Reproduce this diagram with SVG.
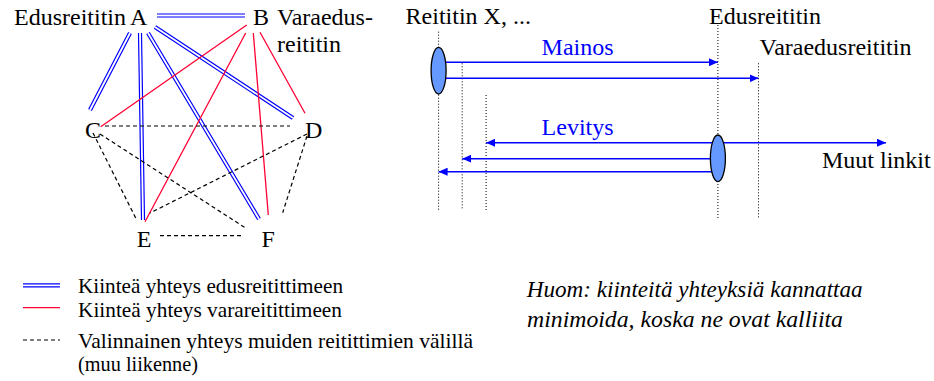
<svg xmlns="http://www.w3.org/2000/svg" width="934" height="381" viewBox="0 0 934 381">
<style>
text{font-family:"Liberation Serif","Times New Roman",serif;fill:#000}
.lbl{font-size:24px}
.leg{font-size:21px}
.note{font-size:23px;font-style:italic}
.blt{fill:#0000FF}
.dbl{stroke:#0000FF;stroke-width:4.2;fill:none}
.dblw{stroke:#FFFFFF;stroke-width:1.8;fill:none}
.red{stroke:#FF0033;stroke-width:1.3;fill:none}
.dash{stroke:#000;stroke-width:1.2;stroke-dasharray:4,3;fill:none}
.dot{stroke:#000;stroke-width:1;stroke-dasharray:1,2;fill:none}
.arr{stroke:#0000FF;stroke-width:1.5;fill:none}
.ell{fill:#6699FF;stroke:#000;stroke-width:1.3}
</style>
<defs>
<marker id="ah" markerUnits="userSpaceOnUse" markerWidth="9" markerHeight="8" refX="9" refY="4" orient="auto-start-reverse" viewBox="0 0 9 8">
<path d="M0,0 L9,4 L0,8 z" fill="#0000FF"/>
</marker>
</defs>

<g id="connectors">
<g id="blue-links">
<path class="dbl" d="M157,15.5 L245,15.5 M130,33 L90,110 M140,33 L143,220 M148,33 L259,219 M155,27 L293,118"/>
<path class="dblw" d="M157,15.5 L245,15.5 M130,33 L90,110 M140,33 L143,220 M148,33 L259,219 M155,27 L293,118"/>
</g>
<g id="red-links">
<path class="red" d="M246.7,25 L100.7,126.7 M245.7,33 L145,221.7 M253.3,33 L268.3,215 M260,32.3 L305,113.3"/>
</g>
<g id="dashed-links">
<path class="dash" d="M105,126 L290,126 M93,133 L136.7,220 M100,134 L246,228.3 M307,134 L150,213 M307,136 L282.7,212.7 M160,235.7 L242,235.7"/>
</g>
<g id="timelines">
<path class="dot" d="M438.6,31.7 V210 M462.2,63.3 V210 M486.1,95 V210 M717.9,25 V218 M758.5,63.3 V218"/>
</g>
<g id="messages">
<path class="arr" marker-end="url(#ah)" d="M445,62.3 L717.9,62.3"/>
<path class="arr" marker-end="url(#ah)" d="M445,78.3 L758.5,78.3"/>
<path class="arr" marker-start="url(#ah)" marker-end="url(#ah)" d="M486.1,142.7 L886,142.7"/>
<path class="arr" marker-end="url(#ah)" d="M712,158.7 L462.2,158.7"/>
<path class="arr" marker-end="url(#ah)" d="M712,171.7 L438.6,171.7"/>
</g>
<g id="legend-lines">
<path class="dbl" d="M23,285.3 L60,285.3"/>
<path class="dblw" d="M23,285.3 L60,285.3"/>
<path class="red" d="M23,307.7 L60,307.7"/>
<path class="dash" d="M23,340 L60,340"/>
</g>
</g>

<g id="node-A"><text class="lbl" x="14" y="25">Edusreititin</text><text class="lbl" x="130" y="25">A</text></g>
<g id="node-B"><text class="lbl" x="253" y="25">B</text><text class="lbl" x="277" y="25">Varaedus-</text><text class="lbl" x="277" y="52">reititin</text></g>
<g id="node-C"><text class="lbl" x="85" y="138">C</text></g>
<g id="node-D"><text class="lbl" x="305" y="138">D</text></g>
<g id="node-E"><text class="lbl" x="136.7" y="246.7">E</text></g>
<g id="node-F"><text class="lbl" x="261.5" y="246.7">F</text></g>

<g id="router-x">
<text class="lbl" x="405.6" y="24">Reititin X, ...</text>
<ellipse class="ell" cx="438.6" cy="70.7" rx="7.5" ry="23.3"/>
</g>
<g id="primary-router">
<text class="lbl" x="709" y="24">Edusreititin</text>
<ellipse class="ell" cx="717.9" cy="158.3" rx="7.5" ry="23.3"/>
</g>
<g id="backup-router"><text class="lbl" x="759.5" y="55">Varaedusreititin</text></g>
<g id="label-mainos"><text class="lbl blt" x="541.6" y="55">Mainos</text></g>
<g id="label-levitys"><text class="lbl blt" x="541.6" y="135">Levitys</text></g>
<g id="label-muut"><text class="lbl" x="822" y="168">Muut linkit</text></g>

<g id="legend">
<text class="leg" x="78" y="293" textLength="265" lengthAdjust="spacingAndGlyphs">Kiinteä yhteys edusreitittimeen</text>
<text class="leg" x="78" y="316.5" textLength="264" lengthAdjust="spacingAndGlyphs">Kiinteä yhteys varareitittimeen</text>
<text class="leg" x="78" y="348.3" textLength="395" lengthAdjust="spacingAndGlyphs">Valinnainen yhteys muiden reitittimien välillä</text>
<text class="leg" x="78" y="371" textLength="120" lengthAdjust="spacingAndGlyphs">(muu liikenne)</text>
</g>
<g id="note">
<text class="note" x="526.7" y="296.7" textLength="336" lengthAdjust="spacingAndGlyphs">Huom: kiinteitä yhteyksiä kannattaa</text>
<text class="note" x="527" y="326.7" textLength="316" lengthAdjust="spacingAndGlyphs">minimoida, koska ne ovat kalliita</text>
</g>
</svg>
